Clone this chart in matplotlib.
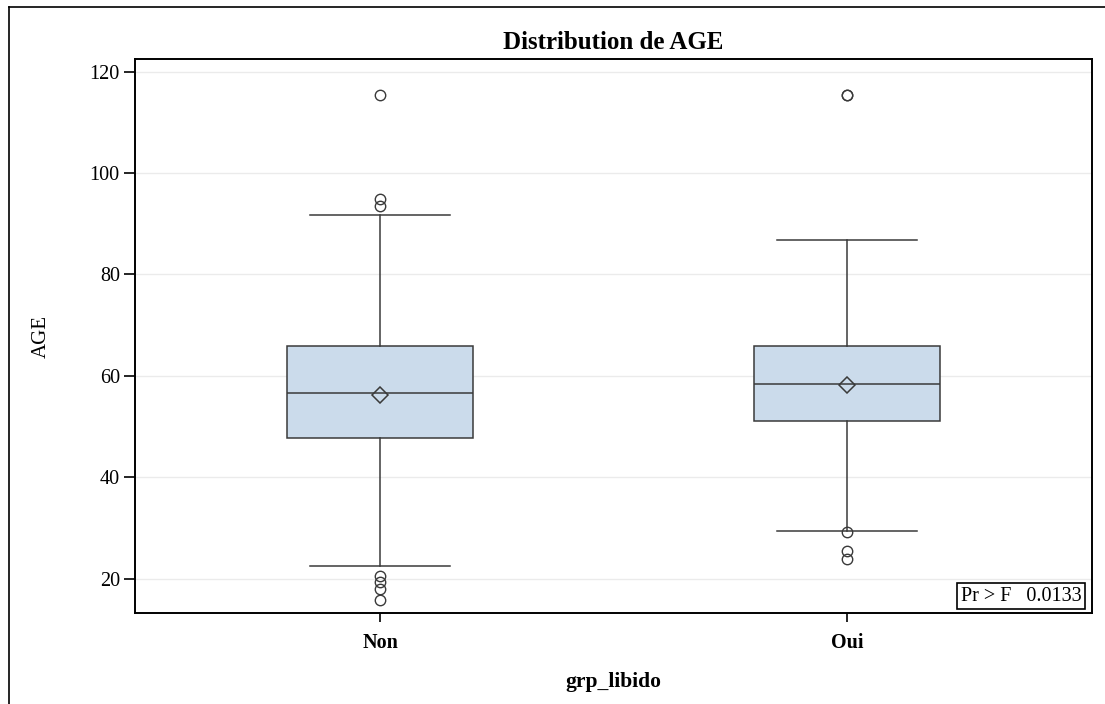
import matplotlib
matplotlib.use('Agg')
import matplotlib.pyplot as plt
from matplotlib.lines import Line2D

plt.rcParams['font.family'] = ['Liberation Serif', 'DejaVu Serif']

groups = ['Non', 'Oui']
q1 = [47.7, 51.2]
med = [56.7, 58.4]
q3 = [65.9, 65.9]
mean = [56.3, 58.3]
whislo = [22.5, 29.4]
whishi = [91.8, 86.8]
outliers = [
    [115.4, 94.8, 93.6, 20.6, 19.3, 18.0, 15.8],
    [115.4, 115.4, 29.2, 25.5, 23.8],
]
yticks = [20, 40, 60, 80, 100, 120]
p_value = '0.0133'

box_color = '#cbdbeb'
edge = '#3a3a3a'

fig = plt.figure(figsize=(11.05, 7.04), dpi=100)
ax = fig.add_axes([0.1222, 0.1288, 0.8660, 0.7874])

stats = []
for i in range(len(groups)):
    stats.append({'label': groups[i], 'q1': q1[i], 'med': med[i], 'q3': q3[i],
                  'mean': mean[i], 'whislo': whislo[i], 'whishi': whishi[i],
                  'fliers': outliers[i]})

ax.bxp(stats, positions=range(len(groups)), widths=0.4, patch_artist=True,
       showmeans=True, meanline=False,
       boxprops=dict(facecolor=box_color, edgecolor=edge, linewidth=1.1),
       medianprops=dict(color=edge, linewidth=1.1),
       whiskerprops=dict(color=edge, linewidth=1.1),
       capprops=dict(color=edge, linewidth=1.1),
       capwidths=0.3,
       meanprops=dict(marker='D', markersize=8, markerfacecolor='none',
                      markeredgecolor=edge, markeredgewidth=1.1),
       flierprops=dict(marker='o', markersize=7.5, markerfacecolor='none',
                       markeredgecolor=edge, markeredgewidth=1.0))

ax.set_xlim(-0.525, 1.525)
ax.set_ylim(13.17, 122.5)
ax.set_yticks(yticks)
ax.set_xticks(range(len(groups)))
ax.set_xticklabels(groups, fontweight='bold')
ax.yaxis.grid(True, color='#ebebeb', linewidth=1.0)
ax.set_axisbelow(True)
ax.tick_params(axis='y', length=8, width=1.2, labelsize=14.5, pad=3)
ax.tick_params(axis='x', length=6.5, width=1.2, labelsize=14.5, pad=8)
for s in ax.spines.values():
    s.set_linewidth(1.4)
    s.set_color('black')

ax.set_title('Distribution de AGE', fontsize=18, fontweight='bold', pad=7)
ax.set_ylabel('AGE', fontsize=15, labelpad=28)
ax.set_xlabel('grp_libido', fontsize=15.5, fontweight='bold', labelpad=13)

ax.text(0.989, 0.014, 'Pr > F   ' + p_value, transform=ax.transAxes,
        ha='right', va='bottom', fontsize=14.5,
        bbox=dict(boxstyle='square,pad=0.18', facecolor='white',
                  edgecolor='black', linewidth=1.2))

# outer frame, cut off at right and bottom
fig.add_artist(Line2D([9 / 1105, 9 / 1105], [0, 1 - 7 / 704], color='black',
                      linewidth=1.2, transform=fig.transFigure))
fig.add_artist(Line2D([9 / 1105, 1], [1 - 7 / 704, 1 - 7 / 704], color='black',
                      linewidth=1.2, transform=fig.transFigure))

fig.savefig('out.png', dpi=100)
